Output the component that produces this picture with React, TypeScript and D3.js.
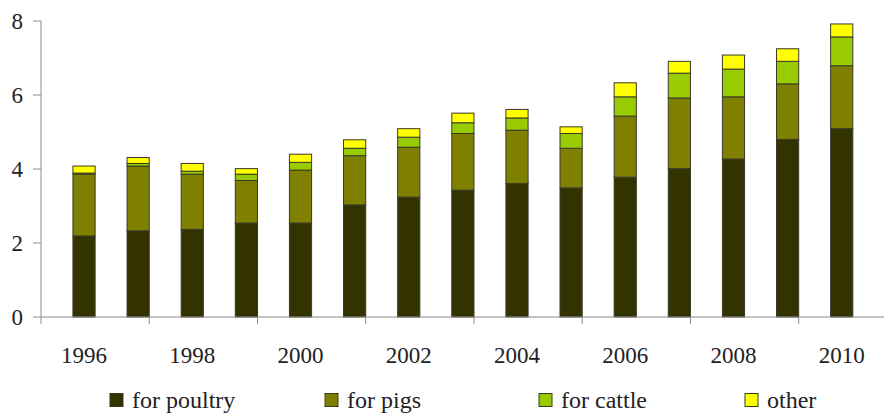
import React, { useEffect, useRef } from "react";
import * as d3 from "d3";

const years = [1996, 1997, 1998, 1999, 2000, 2001, 2002, 2003, 2004, 2005, 2006, 2007, 2008, 2009, 2010];
const poultry = [2.19, 2.33, 2.37, 2.54, 2.54, 3.03, 3.24, 3.43, 3.61, 3.49, 3.78, 4.01, 4.27, 4.80, 5.09];
const pigs = [1.67, 1.75, 1.49, 1.15, 1.43, 1.33, 1.35, 1.53, 1.44, 1.07, 1.65, 1.91, 1.68, 1.50, 1.70];
const cattle = [0.03, 0.07, 0.08, 0.17, 0.21, 0.20, 0.27, 0.29, 0.33, 0.40, 0.52, 0.67, 0.75, 0.61, 0.78];
const other = [0.19, 0.16, 0.21, 0.15, 0.22, 0.23, 0.23, 0.26, 0.23, 0.18, 0.38, 0.32, 0.38, 0.34, 0.35];
const yTicks = [0, 2, 4, 6, 8];
const xLabelYears = [1996, 1998, 2000, 2002, 2004, 2006, 2008, 2010];
const seriesNames = ["for poultry", "for pigs", "for cattle", "other"];
const seriesColors = ["#333300", "#808000", "#99cc00", "#ffff00"];

const FF = 'Tinos, "Liberation Serif", "Times New Roman", "DejaVu Serif", serif';

export default function App() {
  const ref = useRef<SVGSVGElement>(null);

  useEffect(() => {
    const W = 884;
    const left = 41;
    const step = 56.25;
    const svg = d3.select(ref.current);
    svg.selectAll("*").remove();

    const x = d3
      .scaleBand<number>()
      .domain(years)
      .range([left, left + step * years.length])
      .padding(0.59);
    const y = d3.scaleLinear().domain([0, 8]).range([317, 21]);

    const rows = years.map((yr, i) => ({ year: yr, s0: poultry[i], s1: pigs[i], s2: cattle[i], s3: other[i] }));
    const layers = d3.stack<any>().keys(["s0", "s1", "s2", "s3"])(rows);

    const axisColor = "#8c8c8c";

    layers.forEach((layer, li) => {
      svg
        .append("g")
        .selectAll("rect")
        .data(layer)
        .join("rect")
        .attr("x", (_d, i) => x(years[i])!)
        .attr("width", x.bandwidth())
        .attr("y", (d) => y(d[1]))
        .attr("height", (d) => Math.max(0, y(d[0]) - y(d[1])))
        .attr("fill", seriesColors[li])
        .attr("stroke", "#3a3a2a")
        .attr("stroke-width", 1);
    });

    // Y axis
    svg.append("line").attr("x1", left).attr("x2", left).attr("y1", y(8)).attr("y2", y(0)).attr("stroke", axisColor);
    const yg = svg.append("g");
    yTicks.forEach((t) => {
      yg.append("line").attr("x1", left - 8).attr("x2", left).attr("y1", y(t)).attr("y2", y(t)).attr("stroke", axisColor);
      yg.append("text")
        .attr("x", 23)
        .attr("y", y(t) + 8)
        .attr("text-anchor", "end")
        .attr("font-size", 23)
        .attr("font-family", FF)
        .style("font-family", FF)
        .attr("fill", "#222")
        .text(String(t));
    });

    // X axis
    svg.append("line").attr("x1", left).attr("x2", W).attr("y1", y(0)).attr("y2", y(0)).attr("stroke", axisColor).attr("stroke-width", 1.2);
    const r0 = x.range()[0];
    d3.range(0, years.length + 1, 2).forEach((k) => {
      const p = r0 + k * x.step();
      svg.append("line").attr("x1", p).attr("x2", p).attr("y1", y(0)).attr("y2", y(0) + 7).attr("stroke", axisColor);
    });
    xLabelYears.forEach((yr) => {
      svg
        .append("text")
        .attr("x", x(yr)! + x.bandwidth() / 2)
        .attr("y", 363)
        .attr("text-anchor", "middle")
        .attr("font-size", 23)
        .attr("font-family", FF)
        .style("font-family", FF)
        .attr("fill", "#222")
        .text(String(yr));
    });

    // Legend
    const legendSquares = [110, 325, 539, 745];
    seriesNames.forEach((name, i) => {
      svg
        .append("rect")
        .attr("x", legendSquares[i])
        .attr("y", 393.5)
        .attr("width", 13)
        .attr("height", 13)
        .attr("fill", seriesColors[i])
        .attr("stroke", "#3a3a2a");
      svg
        .append("text")
        .attr("x", legendSquares[i] + 22)
        .attr("y", 408)
        .attr("font-size", 24)
        .attr("font-family", FF)
        .style("font-family", FF)
        .attr("fill", "#222")
        .text(name);
    });
  }, []);

  return (
    <div style={{ position: "absolute", left: 0, top: 0, width: 884, height: 414, fontFamily: FF }}>
      <svg ref={ref} width={884} height={414} style={{ display: "block", fontFamily: FF }} />
    </div>
  );
}
